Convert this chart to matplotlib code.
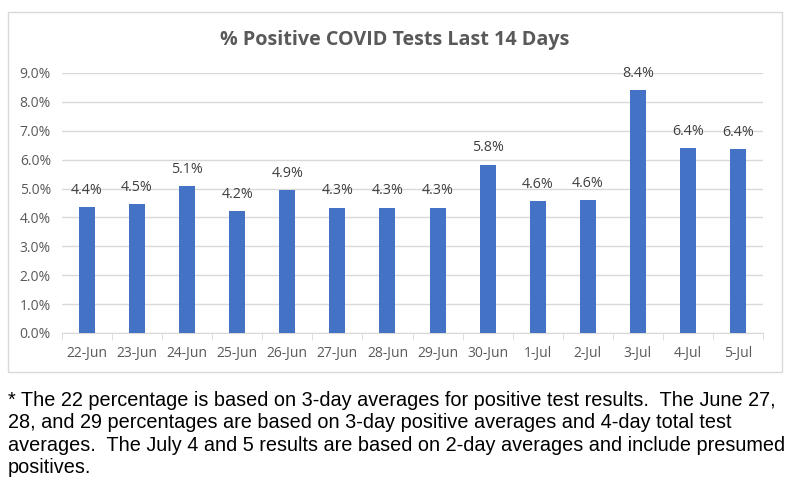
import numpy as np
import matplotlib.pyplot as plt
from matplotlib.patches import Rectangle

# days and % positive values
days = ['22-Jun', '23-Jun', '24-Jun', '25-Jun', '26-Jun', '27-Jun', '28-Jun',
        '29-Jun', '30-Jun', '1-Jul', '2-Jul', '3-Jul', '4-Jul', '5-Jul']
pct = [4.36, 4.46, 5.08, 4.21, 4.94, 4.34, 4.34, 4.34, 5.83, 4.56, 4.59, 8.4, 6.4, 6.36]
yticks = np.arange(0, 10, 1)

note = ("* The 22 percentage is based on 3-day averages for positive test results.  The June 27,\n"
        "28, and 29 percentages are based on 3-day positive averages and 4-day total test\n"
        "averages.  The July 4 and 5 results are based on 2-day averages and include presumed\n"
        "positives.")

W, H = 801, 492
fig = plt.figure(figsize=(W / 100, H / 100), dpi=100)

# chart border
fig.patches.append(Rectangle((8 / W, 1 - 372 / H), (782 - 8) / W, (372 - 12) / H,
                             transform=fig.transFigure, fill=False,
                             edgecolor='#d9d9d9', linewidth=1))

ax = fig.add_axes([62 / W, 1 - 333 / H, (763 - 62) / W, (333 - 73) / H])
x = np.arange(len(days))
bars = ax.bar(x, pct, width=0.32, color='#4472C4', zorder=3)
for b, v in zip(bars, pct):
    ax.text(b.get_x() + b.get_width() / 2, v + 0.33, f'{v:.1f}%', ha='center', va='bottom',
            fontsize=10.3, color='#404040', family='Open Sans')

ax.set_xlim(-0.5, len(days) - 0.5)
ax.set_ylim(0, 9)
ax.set_yticks(yticks)
ax.set_yticklabels([f'{t:.1f}%' for t in yticks], family='Open Sans', fontsize=10, color='#595959')
ax.set_xticks(x)
ax.set_xticklabels(days, family='Open Sans', fontsize=10, color='#595959')
ax.tick_params(axis='x', which='major', length=0, pad=9)
ax.tick_params(axis='y', length=0, pad=8)
ax.set_xticks(np.arange(-0.5, len(days), 1), minor=True)
ax.tick_params(axis='x', which='minor', length=5, color='#d9d9d9')
ax.grid(axis='y', color='#d9d9d9', linewidth=1, zorder=0)
for s in ['top', 'right', 'left']:
    ax.spines[s].set_visible(False)
ax.spines['bottom'].set_color('#d9d9d9')

fig.text(395 / W, 1 - 40 / H, '% Positive COVID Tests Last 14 Days', ha='center', va='center',
         fontsize=14.2, fontweight='bold', color='#595959', family='Open Sans')

fig.text(8 / W, 1 - 391 / H, note, ha='left', va='top', fontsize=14.3,
         family='Liberation Sans', color='black', linespacing=1.23)

fig.savefig('out.png', dpi=100)
